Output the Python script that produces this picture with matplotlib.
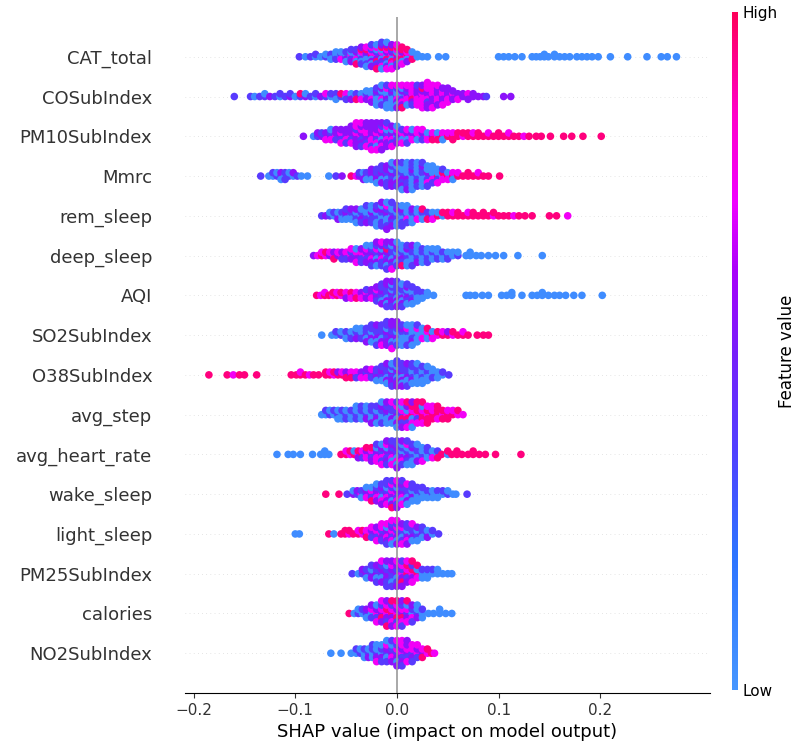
import numpy as np
import matplotlib
matplotlib.use("Agg")
import matplotlib.pyplot as plt
from matplotlib.colors import LinearSegmentedColormap

# each row: (shap value, colour codes of the points at that value)
# b = low feature value (blue), v = blue-violet, p = purple, m = magenta, r = high (red)
cat_total = [(-0.096, "v"), (-0.09, "b"), (-0.085, "v"), (-0.08, "bv"), (-0.075, "b"), (-0.07, "vb"),
             (-0.065, "bvb"), (-0.06, "vbvb"), (-0.055, "bvmb"), (-0.05, "vbpvb"), (-0.045, "bmvbpv"),
             (-0.04, "vbmpbvr"), (-0.035, "pbvmbrvp"), (-0.03, "mvbpbrvmb"), (-0.025, "vrbmpvbmpv"),
             (-0.02, "bmpvrbvmpbr"), (-0.015, "rvbmpbvrmpbv"), (-0.01, "mbrpvmbrvpmb"), (-0.005, "rmbprvmrbpm"),
             (0.0, "mrpbrmvrpm"), (0.005, "rmrpbrmr"), (0.01, "mrbmpr"), (0.015, "bmrb"), (0.02, "bb"),
             (0.025, "b"), (0.03, "b"), (0.041, "b"), (0.048, "b"), (0.1, "b"), (0.105, "b"), (0.11, "b"),
             (0.116, "b"), (0.123, "b"), (0.133, "b"), (0.137, "b"), (0.141, "b"), (0.145, "bb"), (0.149, "b"),
             (0.155, "bb"), (0.16, "b"), (0.165, "b"), (0.17, "b"), (0.177, "b"), (0.182, "b"), (0.187, "b"),
             (0.192, "b"), (0.198, "b"), (0.21, "b"), (0.227, "b"), (0.246, "b"), (0.26, "b"), (0.266, "b"),
             (0.275, "b")]
co_subindex = [(-0.16, "v"), (-0.144, "v"), (-0.14, "b"), (-0.135, "v"), (-0.13, "vb"), (-0.125, "p"),
               (-0.12, "v"), (-0.115, "bv"), (-0.11, "v"), (-0.105, "pv"), (-0.1, "b"), (-0.095, "vr"),
               (-0.09, "pb"), (-0.085, "v"), (-0.08, "bv"), (-0.075, "p"), (-0.07, "vm"), (-0.065, "bv"),
               (-0.06, "pvb"), (-0.055, "vr"), (-0.05, "bmv"), (-0.045, "vbp"), (-0.04, "bvr"), (-0.035, "vbm"),
               (-0.03, "bvpb"), (-0.025, "vbmbp"), (-0.02, "bvbpbvb"), (-0.015, "bvmbbpvb"), (-0.01, "vbpbvmbvb"),
               (-0.005, "bvbpbvbmb"), (0.0, "vbmbpvbmp"), (0.005, "mbvpmbpmr"), (0.01, "mpmvmpbm"),
               (0.015, "pmrmpmvm"), (0.02, "mpmpmpmv"), (0.025, "pmmpmrmpm"), (0.03, "mpmpvmpmpm"),
               (0.035, "pmpmpmpmm"), (0.04, "mpmpmppm"), (0.045, "pmpmppm"), (0.05, "ppmpmp"), (0.055, "pmpp"),
               (0.06, "ppm"), (0.065, "pp"), (0.07, "pmp"), (0.075, "pp"), (0.08, "p"), (0.085, "p"),
               (0.088, "v"), (0.105, "p"), (0.112, "p")]
pm10_subindex = [(-0.092, "p"), (-0.082, "b"), (-0.078, "vp"), (-0.074, "pv"), (-0.07, "vpm"), (-0.065, "pvmb"),
                 (-0.06, "mpvp"), (-0.055, "pmvpm"), (-0.05, "vpmpv"), (-0.045, "mpvpmp"), (-0.04, "pmpvpmpm"),
                 (-0.035, "mpvmppvm"), (-0.03, "pmpmvpmp"), (-0.025, "vpmpmpvpm"), (-0.02, "pmvpmpbpm"),
                 (-0.015, "mpbmpvmpp"), (-0.01, "pvmbpmpv"), (-0.005, "vpmbvpm"), (0.0, "bpvmpb"), (0.005, "pmbvm"),
                 (0.01, "mpbmv"), (0.015, "mpmb"), (0.02, "pmbm"), (0.025, "mpvm"), (0.03, "mbm"), (0.035, "pmr"),
                 (0.04, "mbr"), (0.045, "rmb"), (0.05, "rm"), (0.055, "rmr"), (0.06, "rr"), (0.065, "mr"),
                 (0.07, "rr"), (0.075, "rm"), (0.08, "rr"), (0.085, "r"), (0.09, "rm"), (0.095, "r"), (0.1, "rr"),
                 (0.105, "r"), (0.11, "rm"), (0.115, "r"), (0.12, "r"), (0.125, "m"), (0.13, "r"), (0.137, "r"),
                 (0.142, "r"), (0.151, "r"), (0.164, "r"), (0.172, "r"), (0.183, "r"), (0.201, "r")]
mmrc = [(-0.134, "v"), (-0.126, "b"), (-0.122, "bv"), (-0.118, "vb"), (-0.114, "vpb"), (-0.11, "bvv"),
        (-0.106, "vb"), (-0.102, "bp"), (-0.098, "v"), (-0.094, "b"), (-0.088, "b"), (-0.067, "b"), (-0.06, "v"),
        (-0.054, "p"), (-0.045, "r"), (-0.04, "m"), (-0.037, "pv"), (-0.033, "vbp"), (-0.03, "pvb"),
        (-0.025, "vpbp"), (-0.02, "pvpvb"), (-0.015, "vpbvpv"), (-0.01, "pvbpvpv"), (-0.005, "vpvbpvpb"),
        (0.0, "pvbvpbvp"), (0.005, "bvpbvbpvb"), (0.01, "vbpbvbvbp"), (0.015, "bvbpbvbvb"), (0.02, "vbvbpbvb"),
        (0.025, "bvbvbpbv"), (0.03, "bpvbmbv"), (0.035, "vbmbvb"), (0.04, "rbvbm"), (0.045, "brmv"),
        (0.05, "rbm"), (0.055, "rmb"), (0.06, "rm"), (0.065, "r"), (0.07, "rr"), (0.075, "r"), (0.08, "rm"),
        (0.085, "r"), (0.09, "r"), (0.101, "r")]
rem_sleep = [(-0.074, "v"), (-0.07, "p"), (-0.066, "vb"), (-0.062, "bv"), (-0.058, "vbp"), (-0.054, "bvb"),
             (-0.05, "vpbv"), (-0.045, "bvbp"), (-0.04, "vbvpb"), (-0.035, "bvpbv"), (-0.03, "vbvbpv"),
             (-0.025, "bpvbvb"), (-0.02, "vbvpbvb"), (-0.015, "bvbpvbvp"), (-0.01, "vpbvbmvbp"),
             (-0.005, "bvpbvbpv"), (0.0, "vbvpbvb"), (0.005, "bvbpvbv"), (0.01, "vbmbvb"), (0.015, "bvbpb"),
             (0.02, "vbmb"), (0.025, "bvbr"), (0.03, "bvr"), (0.035, "vbm"), (0.04, "rb"), (0.045, "br"),
             (0.05, "rr"), (0.055, "rm"), (0.06, "rr"), (0.065, "r"), (0.07, "rm"), (0.075, "rr"), (0.08, "r"),
             (0.085, "rr"), (0.09, "r"), (0.095, "mr"), (0.1, "r"), (0.105, "r"), (0.11, "r"), (0.115, "m"),
             (0.12, "r"), (0.126, "r"), (0.133, "r"), (0.15, "r"), (0.157, "r"), (0.168, "m")]
deep_sleep = [(-0.082, "p"), (-0.078, "m"), (-0.074, "rm"), (-0.07, "mr"), (-0.066, "pm"), (-0.062, "mpr"),
              (-0.058, "pm"), (-0.054, "mpv"), (-0.05, "pmv"), (-0.045, "mvpm"), (-0.04, "vmpbm"),
              (-0.035, "pmvpv"), (-0.03, "mpvmpb"), (-0.025, "vpmvpbv"), (-0.02, "pvbmpvbp"),
              (-0.015, "vpmbvpvm"), (-0.01, "bpvrpvbpv"), (-0.005, "pvbvpbvpm"), (0.0, "vbpvbpvb"),
              (0.005, "bvpbvbr"), (0.01, "vbvpbvb"), (0.015, "bvbvbpv"), (0.02, "vbvbpb"), (0.025, "bvbvb"),
              (0.03, "vbvbv"), (0.035, "bvbb"), (0.04, "vbvb"), (0.045, "bvb"), (0.05, "vbv"), (0.055, "bb"),
              (0.06, "vb"), (0.068, "b"), (0.072, "bb"), (0.078, "b"), (0.083, "b"), (0.09, "b"), (0.097, "b"),
              (0.105, "b"), (0.119, "b"), (0.143, "b")]
aqi = [(-0.079, "r"), (-0.075, "m"), (-0.071, "rm"), (-0.067, "r"), (-0.063, "mr"), (-0.059, "rm"),
       (-0.055, "mr"), (-0.05, "rmp"), (-0.045, "mrm"), (-0.04, "pmr"), (-0.035, "mpm"), (-0.03, "pmpv"),
       (-0.025, "vpmp"), (-0.02, "pvpmvp"), (-0.015, "vpvpbvpv"), (-0.01, "pvbvpvbpvp"), (-0.005, "vpvbpvpbvp"),
       (0.0, "pvbvpvbvpv"), (0.005, "vbpvbvpbv"), (0.01, "bvpbvpbv"), (0.015, "vbvbpvb"), (0.02, "bvbvb"),
       (0.025, "bvb"), (0.03, "bb"), (0.036, "b"), (0.068, "b"), (0.072, "b"), (0.077, "b"), (0.084, "b"),
       (0.09, "b"), (0.103, "b"), (0.108, "b"), (0.113, "bb"), (0.123, "b"), (0.133, "b"), (0.138, "b"),
       (0.143, "bb"), (0.149, "b"), (0.155, "b"), (0.16, "b"), (0.166, "b"), (0.174, "b"), (0.182, "b"),
       (0.202, "b")]
so2_subindex = [(-0.074, "b"), (-0.064, "b"), (-0.06, "bv"), (-0.055, "vb"), (-0.05, "bvb"), (-0.045, "vbv"),
                (-0.04, "bvpb"), (-0.035, "vbvb"), (-0.03, "pvbvp"), (-0.025, "vbpvbv"), (-0.02, "bvpvbpv"),
                (-0.015, "pvbvpvm"), (-0.01, "vpvbpvpv"), (-0.005, "pvpvbpvpm"), (0.0, "vbpvbpvp"),
                (0.005, "bvbpbvb"), (0.01, "bvbmbbv"), (0.015, "bbvbpbb"), (0.02, "vbbmbv"), (0.025, "bbmb"),
                (0.03, "bmbr"), (0.035, "rbm"), (0.04, "mr"), (0.045, "rm"), (0.05, "rp"), (0.055, "mr"),
                (0.06, "r"), (0.065, "rm"), (0.07, "r"), (0.079, "r"), (0.085, "r"), (0.09, "r")]
o38_subindex = [(-0.185, "r"), (-0.167, "r"), (-0.161, "m"), (-0.155, "r"), (-0.15, "r"), (-0.138, "r"),
                (-0.104, "r"), (-0.099, "r"), (-0.095, "rm"), (-0.09, "r"), (-0.086, "m"), (-0.082, "r"),
                (-0.077, "r"), (-0.07, "rr"), (-0.066, "rm"), (-0.062, "mr"), (-0.058, "rp"), (-0.054, "rm"),
                (-0.05, "mpr"), (-0.045, "pmr"), (-0.04, "pmv"), (-0.035, "vpm"), (-0.03, "pvmp"),
                (-0.025, "vpvm"), (-0.02, "pvpvb"), (-0.015, "vpvpbv"), (-0.01, "pvbvpvbp"),
                (-0.005, "vpvbpvpbv"), (0.0, "pvbpvbpvpv"), (0.005, "vpbvpvbvp"), (0.01, "bvpvbvbpv"),
                (0.015, "vbvbpvbv"), (0.02, "bvbvbvbb"), (0.025, "vbvbbvb"), (0.03, "bvbvbb"), (0.035, "bbvb"),
                (0.04, "vbb"), (0.045, "bv"), (0.051, "v")]
avg_step = [(-0.074, "b"), (-0.07, "bv"), (-0.066, "vb"), (-0.062, "bv"), (-0.058, "vbb"), (-0.054, "bvb"),
            (-0.05, "vbv"), (-0.045, "bvb"), (-0.04, "vbvb"), (-0.035, "bvbv"), (-0.03, "vbpb"),
            (-0.025, "bvbvp"), (-0.02, "vbpvb"), (-0.015, "bvbpvb"), (-0.01, "vpbvbp"), (-0.005, "bvpvbm"),
            (0.0, "pvbmpvb"), (0.005, "vmrbvmp"), (0.01, "mbrpvrm"), (0.015, "rmbrmpb"), (0.02, "mrvrmr"),
            (0.025, "rmrbmr"), (0.03, "mrrmr"), (0.035, "rmrm"), (0.04, "rrmr"), (0.045, "mrr"), (0.05, "rmr"),
            (0.055, "rm"), (0.06, "mr"), (0.065, "m")]
avg_heart_rate = [(-0.118, "b"), (-0.107, "b"), (-0.102, "b"), (-0.095, "b"), (-0.083, "b"), (-0.075, "b"),
                  (-0.071, "bb"), (-0.067, "b"), (-0.055, "r"), (-0.05, "rm"), (-0.046, "mr"), (-0.042, "rb"),
                  (-0.038, "mrp"), (-0.034, "rmv"), (-0.03, "mpmr"), (-0.025, "pmvrp"), (-0.02, "vpmbmv"),
                  (-0.015, "pvmpvbm"), (-0.01, "mpvbpmvp"), (-0.005, "vpmvbpmv"), (0.0, "pvbpmvbvp"),
                  (0.005, "vbpvmbvp"), (0.01, "bvpbvmbv"), (0.015, "vbvpbvb"), (0.02, "bvbvpb"), (0.025, "vbvbm"),
                  (0.03, "bvbv"), (0.035, "vbm"), (0.04, "bvr"), (0.044, "r"), (0.05, "br"), (0.054, "r"),
                  (0.059, "rr"), (0.064, "r"), (0.07, "r"), (0.075, "rr"), (0.081, "r"), (0.087, "r"),
                  (0.097, "r"), (0.122, "r")]
wake_sleep = [(-0.07, "r"), (-0.057, "r"), (-0.049, "v"), (-0.043, "pb"), (-0.039, "vp"), (-0.035, "mvb"),
              (-0.03, "vpmb"), (-0.025, "pmvbr"), (-0.02, "vpmvpb"), (-0.015, "mvbpmvp"), (-0.01, "pvmbpvmv"),
              (-0.005, "vmpvbmpvr"), (0.0, "mpvbmpvmp"), (0.005, "vpmvbpmv"), (0.01, "pvbvpmb"),
              (0.015, "vbpvbv"), (0.02, "bvbvb"), (0.025, "vbbv"), (0.03, "bvb"), (0.035, "vbb"), (0.04, "bvb"),
              (0.045, "bv"), (0.05, "vb"), (0.055, "b"), (0.058, "b"), (0.069, "v")]
light_sleep = [(-0.1, "b"), (-0.096, "b"), (-0.067, "r"), (-0.062, "b"), (-0.055, "r"), (-0.051, "rr"),
               (-0.047, "mr"), (-0.043, "r"), (-0.038, "rm"), (-0.034, "mr"), (-0.03, "pmr"), (-0.025, "mpvm"),
               (-0.02, "pmvpm"), (-0.015, "mvpmvm"), (-0.01, "vpmbpmv"), (-0.005, "pmvpmvbm"), (0.0, "mvpmbvpm"),
               (0.005, "pvbmvpm"), (0.01, "vbpvmvp"), (0.015, "bvpvbm"), (0.02, "vbvpb"), (0.025, "pvbv"),
               (0.03, "vbp"), (0.035, "bv"), (0.041, "v")]
pm25_subindex = [(-0.044, "v"), (-0.038, "b"), (-0.034, "vp"), (-0.03, "pvb"), (-0.025, "vbpv"), (-0.02, "pvbpv"),
                 (-0.015, "vpbvpm"), (-0.01, "pvpbvpv"), (-0.005, "vpvmbpv"), (0.0, "pvbpvmp"),
                 (0.005, "mvpmrvp"), (0.01, "rmvrpm"), (0.015, "mrpvmr"), (0.02, "rbmr"), (0.025, "bvb"),
                 (0.03, "bvb"), (0.035, "bv"), (0.04, "bb"), (0.045, "b"), (0.05, "b"), (0.054, "b")]
calories = [(-0.047, "r"), (-0.042, "b"), (-0.038, "vb"), (-0.034, "bv"), (-0.03, "vpb"), (-0.025, "bmvp"),
            (-0.02, "mpvbm"), (-0.015, "pmrvpm"), (-0.01, "mrpmvpr"), (-0.005, "rmpvmrp"), (0.0, "mprmvrm"),
            (0.005, "pmrvmpv"), (0.01, "vmpbmr"), (0.015, "bvmpv"), (0.02, "vbpb"), (0.025, "bvb"),
            (0.031, "b"), (0.036, "b"), (0.042, "bb"), (0.048, "b"), (0.054, "b")]
no2_subindex = [(-0.065, "b"), (-0.055, "b"), (-0.045, "b"), (-0.04, "bv"), (-0.036, "vb"), (-0.032, "bvb"),
                (-0.028, "vbp"), (-0.024, "bvbv"), (-0.02, "vbpbm"), (-0.015, "bvpbv"), (-0.01, "vpbmvb"),
                (-0.005, "pvmbpv"), (0.0, "vmpvbmp"), (0.005, "mpvmpmv"), (0.01, "pmvpmp"), (0.015, "vmpmv"),
                (0.02, "mpvm"), (0.025, "pmr"), (0.03, "mr"), (0.034, "r"), (0.037, "m")]

feature_names = ["CAT_total", "COSubIndex", "PM10SubIndex", "Mmrc", "rem_sleep", "deep_sleep", "AQI",
                 "SO2SubIndex", "O38SubIndex", "avg_step", "avg_heart_rate", "wake_sleep", "light_sleep",
                 "PM25SubIndex", "calories", "NO2SubIndex"]
rows = [cat_total, co_subindex, pm10_subindex, mmrc, rem_sleep, deep_sleep, aqi, so2_subindex, o38_subindex,
        avg_step, avg_heart_rate, wake_sleep, light_sleep, pm25_subindex, calories, no2_subindex]
level = {"b": 0.06, "v": 0.38, "p": 0.55, "m": 0.74, "r": 0.95}

# colour scale (low -> high)
red_blue = LinearSegmentedColormap.from_list("red_blue", [
    (0.0, (70 / 255, 150 / 255, 1.0)),
    (0.2, (45 / 255, 115 / 255, 1.0)),
    (0.35, (80 / 255, 65 / 255, 1.0)),
    (0.5, (120 / 255, 30 / 255, 250 / 255)),
    (0.62, (170 / 255, 0.0, 250 / 255)),
    (0.72, (240 / 255, 0.0, 1.0)),
    (0.85, (1.0, 0.0, 200 / 255)),
    (1.0, (1.0, 0.0, 90 / 255)),
])


def swarm(vals, nbins=100, row_height=0.47):
    quant = np.round(nbins * (vals - vals.min()) / (vals.max() - vals.min() + 1e-8))
    inds = np.argsort(quant, kind="stable")
    ys = np.zeros(len(vals))
    layer = 0
    last = None
    for i in inds:
        if quant[i] != last:
            layer = 0
        ys[i] = np.ceil(layer / 2) * ((layer % 2) * 2 - 1)
        layer += 1
        last = quant[i]
    return ys * 0.9 * (row_height / np.max(ys + 1))


fig = plt.figure(figsize=(8.06, 7.56), dpi=100)
ax = fig.add_axes([185 / 806, 63 / 756, 525 / 806, 676 / 756])
n = len(feature_names)
ax.axvline(0, color="#999999", lw=1.2, zorder=4)
for pos, (name, pts) in enumerate(zip(feature_names, rows)):
    y = n - 1 - pos
    ax.axhline(y, color="#cccccc", lw=0.5, dashes=(1, 5), zorder=-1)
    vals = np.array([v for v, s in pts for _ in s])
    cols = np.array([level[ch] for v, s in pts for ch in s])
    ys = swarm(vals)
    ax.scatter(vals, y + ys, c=cols, cmap=red_blue, vmin=0, vmax=1, s=30, linewidth=0, alpha=1, zorder=3)

ax.set_ylim(-1, n)
ax.set_xlim(-0.2085, 0.308)
ax.set_yticks(range(n))
ax.set_yticklabels(feature_names[::-1], fontsize=13)
ax.yaxis.set_ticks_position("none")
ax.tick_params("y", length=20, width=0.5, which="major")
ax.tick_params(color="#333333", labelcolor="#333333")
ax.tick_params("x", labelsize=11)
ax.set_xticks([-0.2, -0.1, 0.0, 0.1, 0.2])
for s in ["top", "right", "left"]:
    ax.spines[s].set_visible(False)
ax.set_xlabel("SHAP value (impact on model output)", fontsize=13)

cax = fig.add_axes([732 / 806, 66 / 756, 6 / 806, 678 / 756])
sm = plt.cm.ScalarMappable(cmap=red_blue, norm=plt.Normalize(0, 1))
cb = fig.colorbar(sm, cax=cax, ticks=[0, 1])
cb.set_ticklabels(["Low", "High"])
cb.ax.tick_params(labelsize=11, length=0)
cb.set_label("Feature value", size=12, labelpad=0)
cb.outline.set_visible(False)

fig.savefig("out.png", dpi=100)
